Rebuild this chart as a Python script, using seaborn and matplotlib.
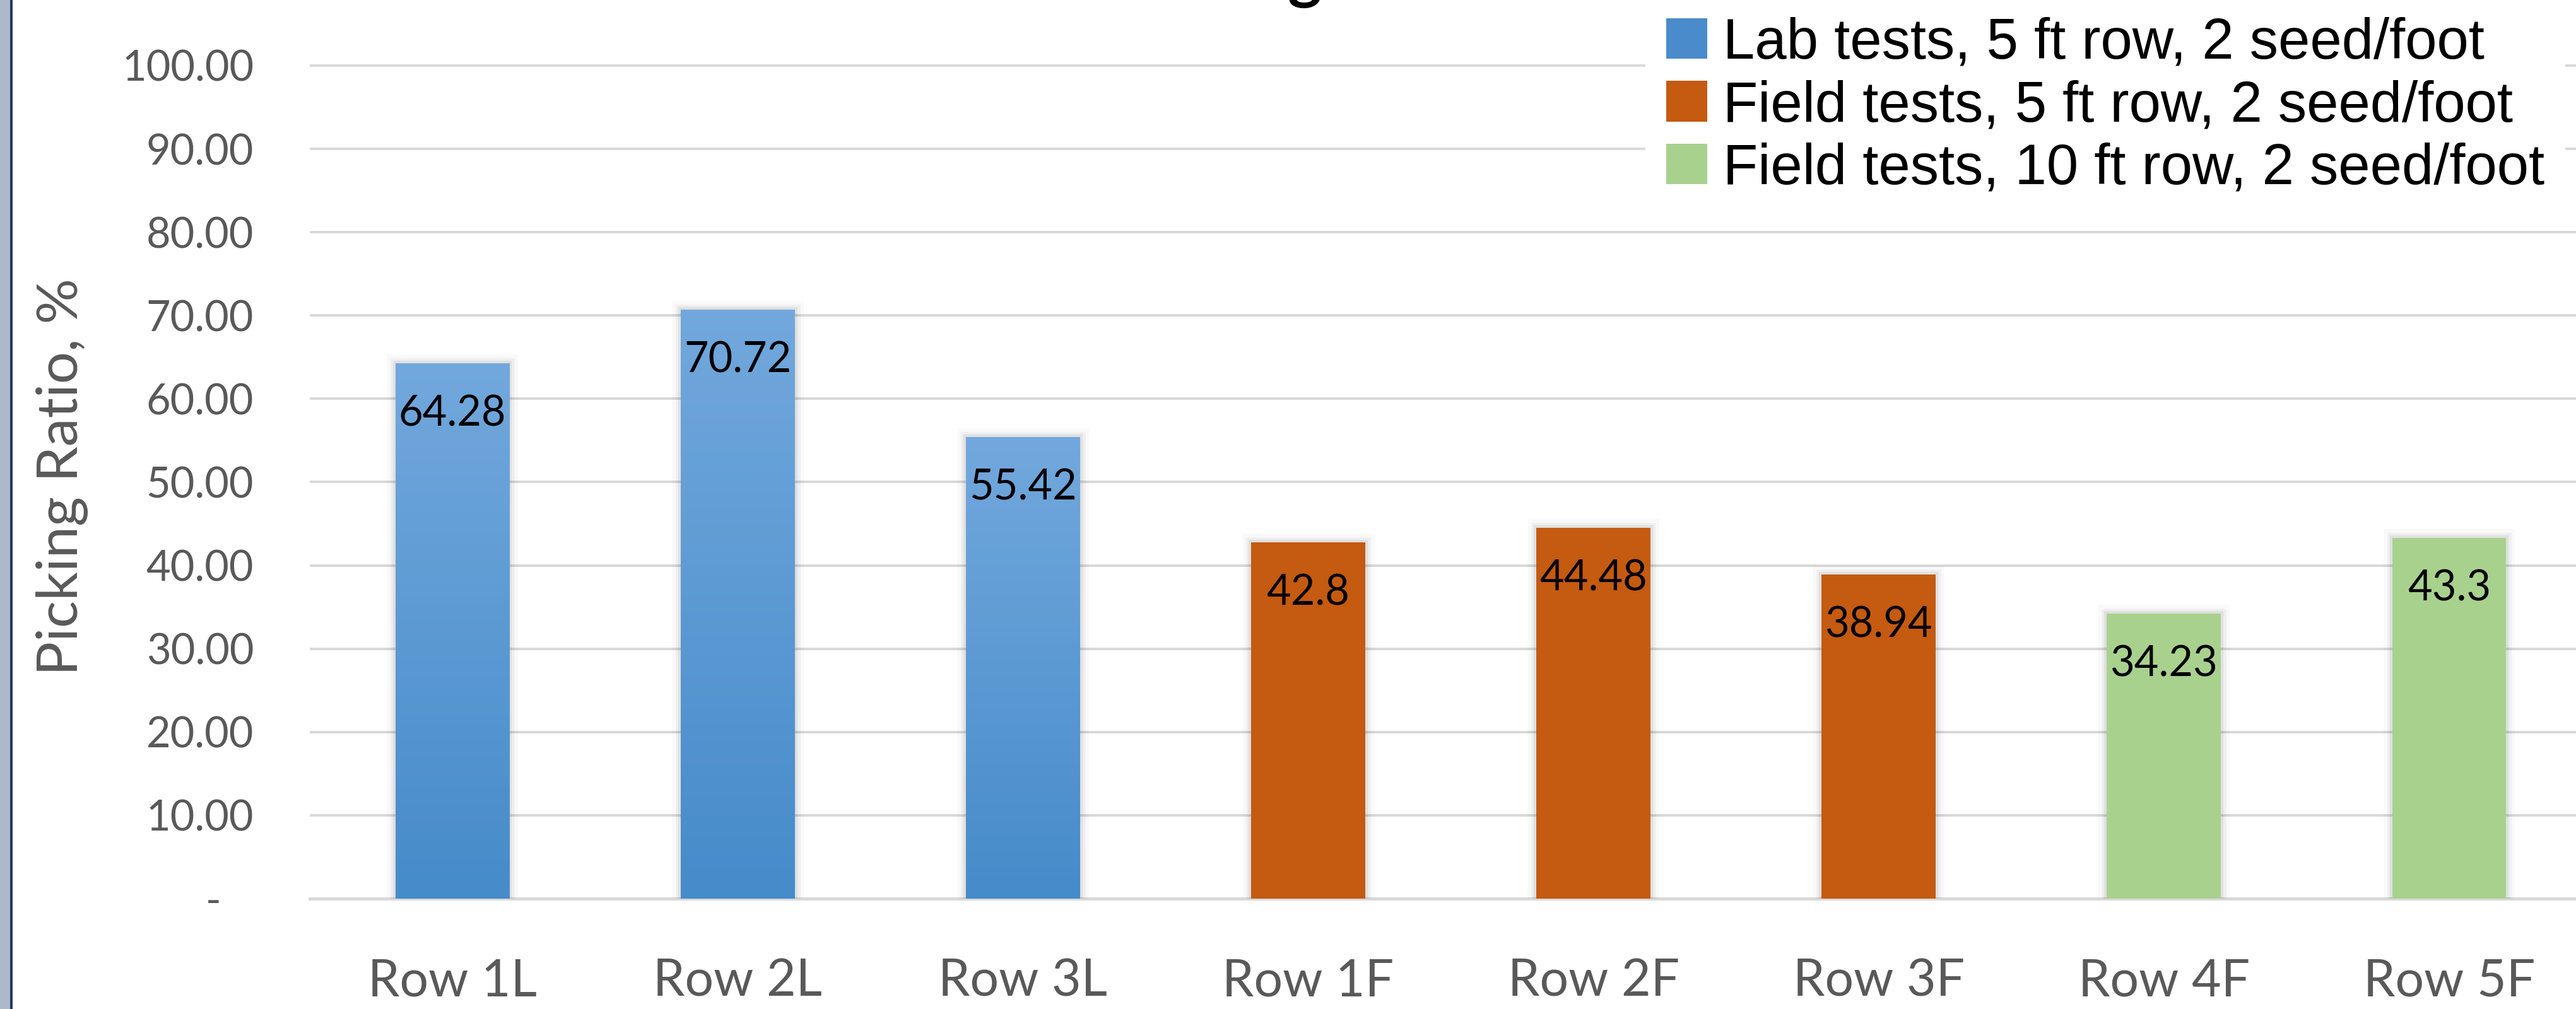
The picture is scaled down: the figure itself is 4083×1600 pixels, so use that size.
import numpy as np
import pandas as pd
import matplotlib
matplotlib.use("Agg")
import matplotlib.pyplot as plt
import matplotlib.patheffects as pe
import seaborn as sns
from matplotlib.patches import Patch, Rectangle
from matplotlib.colors import LinearSegmentedColormap
from matplotlib.ticker import FuncFormatter

# ---- data -------------------------------------------------------------
rows = ["Row 1L", "Row 2L", "Row 3L", "Row 1F", "Row 2F", "Row 3F", "Row 4F", "Row 5F"]
picking_ratio = [64.28, 70.72, 55.42, 42.8, 44.48, 38.94, 34.23, 43.3]
test_groups = (["Lab tests, 5 ft row, 2 seed/foot"] * 3
               + ["Field tests, 5 ft row, 2 seed/foot"] * 3
               + ["Field tests, 10 ft row, 2 seed/foot"] * 2)
group_order = ["Lab tests, 5 ft row, 2 seed/foot",
               "Field tests, 5 ft row, 2 seed/foot",
               "Field tests, 10 ft row, 2 seed/foot"]
group_colors = ["#4A8BCB", "#C55A11", "#A9D18E"]
y_ticks = np.arange(0, 101, 10)

# ---- figure -----------------------------------------------------------
W, H, DPI = 4083, 1600, 200
sns.set_theme(style="white")
plt.rcParams["font.family"] = ["Lato", "DejaVu Sans"]

fig = plt.figure(figsize=(W / DPI, H / DPI), dpi=DPI)
fig.patch.set_facecolor("white")

# plot area (pixel geometry converted to figure fractions)
x_left, x_right, y_zero, y_top = 491, 4108, 1425, 90
ax = fig.add_axes([x_left / W, (H - y_zero) / H, (x_right - x_left) / W, (y_zero - y_top) / H])
px_per_unit = (1425 - 104) / 100.0

df = pd.DataFrame({"row": rows, "ratio": picking_ratio, "group": test_groups})
sns.barplot(data=df, x="row", y="ratio", hue="group", hue_order=group_order,
            palette=dict(zip(group_order, group_colors)), dodge=False, width=0.4,
            saturation=1, linewidth=0, legend=False, ax=ax, zorder=3)

# bars: soft shadow, gradient on the lab bars, value labels
shadow = [pe.Stroke(linewidth=10, foreground="#000000", alpha=0.025),
          pe.Stroke(linewidth=6, foreground="#000000", alpha=0.04),
          pe.Stroke(linewidth=3, foreground="#000000", alpha=0.06),
          pe.Normal()]
lab_cmap = LinearSegmentedColormap.from_list("lab", ["#468BCA", "#72A8DD"])
grad = np.linspace(0, 1, 256).reshape(-1, 1)

bars = sorted([p for p in ax.patches if p.get_height() > 0], key=lambda p: p.get_x())
for bar, grp in zip(bars, test_groups):
    bar.set_path_effects(shadow)
    x0, w, h = bar.get_x(), bar.get_width(), bar.get_height()
    if grp == group_order[0]:
        im = ax.imshow(grad, extent=[x0, x0 + w, 0, h], origin="lower", cmap=lab_cmap,
                       aspect="auto", interpolation="bicubic", zorder=bar.get_zorder() + 0.1)
        im.set_clip_path(bar)
    ax.annotate(f"{h:g}", (x0 + w / 2, h), xytext=(0, -29), textcoords="offset points",
                ha="center", va="center", fontsize=24, color="black", zorder=6)

ax.set_xlim(-0.5, 7.5)
ax.set_ylim(0, (y_zero - y_top) / px_per_unit)

# axes styling
ax.set_yticks(y_ticks)
ax.yaxis.set_major_formatter(FuncFormatter(lambda v, _: "-   " if abs(v) < 1e-9 else f"{v:.2f}"))
ax.grid(axis="y", color="#D9D9D9", linewidth=1.44)
ax.grid(axis="x", visible=False)
ax.set_axisbelow(True)
for side in ["top", "right", "left"]:
    ax.spines[side].set_visible(False)
ax.spines["bottom"].set_color("#D9D9D9")
ax.spines["bottom"].set_linewidth(1.8)
ax.tick_params(axis="y", length=0, pad=32, labelsize=24, labelcolor="#595959")
ax.tick_params(axis="x", length=0, pad=34, labelsize=29, labelcolor="#595959")
ax.set_xlabel("")
ax.set_ylabel("Picking Ratio, %", fontsize=32.5, color="#595959", va="center")
ax.yaxis.set_label_coords((99 - x_left) / (x_right - x_left), (y_zero - 756) / (y_zero - y_top))

# legend
handles = [Patch(facecolor=c, edgecolor="none", label=g) for g, c in zip(group_order, group_colors)]
leg = fig.legend(handles=handles, loc="upper left", bbox_to_anchor=(2608 / W, 1 + 6 / H),
                 bbox_transform=fig.transFigure, frameon=True, fancybox=False, framealpha=1,
                 edgecolor="none", facecolor="white", borderpad=0.36, labelspacing=0.16,
                 handlelength=0.72, handleheight=0.72, handletextpad=0.28, borderaxespad=0,
                 prop={"family": ["Liberation Sans"], "size": 32.6})
for t in leg.get_texts():
    t.set_color("black")

# chart title (runs off the top edge)
fig.text(2062 / W, 1 + 6 / H, "Picking Ratio", ha="center", va="baseline",
         fontsize=37, fontweight="bold", color="black")

# frame strip along the left edge
fig.patches.append(Rectangle((0, 0), 16 / W, 1, transform=fig.transFigure,
                             facecolor="#ADB9CA", edgecolor="none", zorder=20))
fig.patches.append(Rectangle((16 / W, 0), 4 / W, 1, transform=fig.transFigure,
                             facecolor="#1F3864", edgecolor="none", zorder=20))

fig.savefig("out.png", dpi=DPI)
